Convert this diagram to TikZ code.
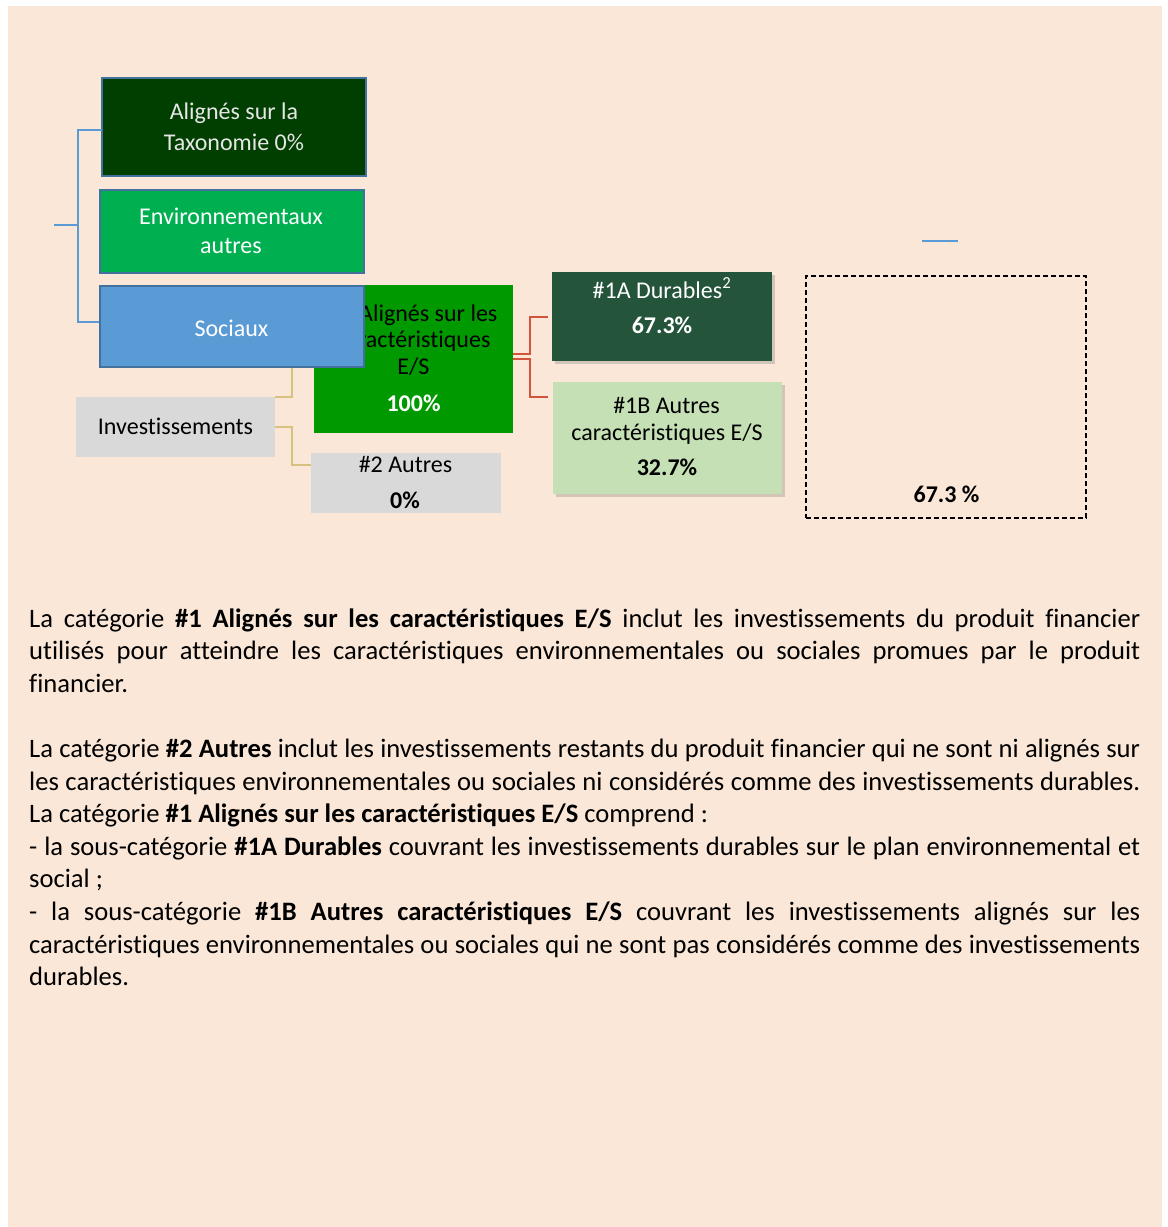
\documentclass[tikz,border=0pt]{standalone}
\usepackage{fontspec}
\setmainfont{Carlito}[Ligatures={CommonOff}]
\usetikzlibrary{shadows}
\definecolor{peach}{HTML}{FAE7D7}
\definecolor{bordblue}{HTML}{41719C}
\definecolor{taxgreen}{HTML}{003F00}
\definecolor{envgreen}{HTML}{00B050}
\definecolor{socblue}{HTML}{5B9BD5}
\definecolor{esgreen}{HTML}{009900}
\definecolor{greybox}{HTML}{D9D9D9}
\definecolor{darkgreen}{HTML}{24543A}
\definecolor{lightgreen}{HTML}{C5E0B4}
\definecolor{redline}{HTML}{D0553A}
\definecolor{tanline}{HTML}{D4C27E}
\definecolor{linkblue}{HTML}{5B9BD5}
\definecolor{taxtext}{HTML}{E6E6E6}
\begin{document}
\begin{tikzpicture}[x=1pt,y=-1pt,
  box/.style={rectangle, inner sep=0pt, outer sep=0pt},
  bordered/.style={box, draw=bordblue, line width=2pt},
  shadowed/.style={box, drop shadow={shadow xshift=2.5pt, shadow yshift=-3pt, opacity=0.22, fill=black!70}},
  txt/.style={anchor=base, inner sep=0pt, font=\fontsize{24}{29}\selectfont},
  ptxt/.style={anchor=base west, inner sep=0pt, font=\fontsize{26.6}{32.6}\selectfont, text=black},
  blueconn/.style={draw=linkblue, line width=1.4pt},
  tanconn/.style={draw=tanline, line width=1.6pt},
  redconn/.style={draw=redline, line width=2pt}]
\useasboundingbox (0,0) rectangle (1168,1227);
\fill[white] (0,0) rectangle (1168,1227);
\fill[peach] (8,6) rectangle (1162,1227);

% left boxes
\node[bordered, fill=taxgreen, minimum width=264pt, minimum height=98pt] (tax) at (233.5,126.5) {};
\node[txt, text=taxtext] (taxA) at (234,119) {Alignés sur la};
\node[txt, text=taxtext] (taxB) at (234,150) {Taxonomie 0\%};

\node[bordered, fill=envgreen, minimum width=264pt, minimum height=83pt] (env) at (231.5,231) {};
\node[txt, text=white] (envA) at (231,224) {Environnementaux};
\node[txt, text=white] (envB) at (231,253) {autres};

% blue connectors
\coordinate (root) at (54,225);
\draw[blueconn] (root) -- (78,225) |- ([yshift=-3.5pt]tax.west);
\draw[blueconn] (78,225) |- (99,322);

% #1 box
\node[box, fill=esgreen, minimum width=199pt, minimum height=148pt] (es1) at (413.5,359) {};
\node[txt, text=black] (es1A) at (413.5,321) {\#1 Alignés sur les};
\node[txt, text=black] (es1B) at (413.5,347) {caractéristiques};
\node[txt, text=black] (es1C) at (413.5,374) {E/S};
\node[txt, text=white, font=\fontsize{24}{29}\selectfont\bfseries] (es1D) at (413.5,411) {100\%};

% investissements
\node[box, fill=greybox, minimum width=199pt, minimum height=60pt] (inv) at (175.5,427) {};
\node[txt, text=black] (invA) at (175.5,434) {Investissements};

\node[box, fill=greybox, minimum width=190pt, minimum height=60pt] (aut2) at (406,483) {};
\node[txt, text=black] (aut2A) at (405.5,472) {\#2 Autres};
\node[txt, text=black, font=\fontsize{24}{29}\selectfont\bfseries] (aut2B) at (405,508) {0\%};

% tan connectors
\draw[tanconn] (inv.north east) -- ++(17,0) |- (es1.west);
\draw[tanconn] (inv.east) -- ++(17,0) |- ([yshift=18pt]aut2.west);

% sociaux (drawn over #1 box)
\node[bordered, fill=socblue, minimum width=264pt, minimum height=81pt] (soc) at (231.5,326) {};
\node[txt, text=white] (socA) at (231.5,336) {Sociaux};

% #1A and #1B
\node[shadowed, fill=darkgreen, minimum width=220pt, minimum height=89pt] (d1a) at (662,316.5) {};
\node[txt, text=white] (d1aA) at (662,298) {\#1A Durables\textsuperscript{2}};
\node[txt, text=white, font=\fontsize{24}{29}\selectfont\bfseries] (d1aB) at (662,333) {67.3\%};

\node[shadowed, fill=lightgreen, minimum width=229pt, minimum height=112pt] (d1b) at (667.5,438) {};
\node[txt, text=black] (d1bA) at (666.5,413) {\#1B Autres};
\node[txt, text=black] (d1bB) at (667,440) {caractéristiques E/S};
\node[txt, text=black, font=\fontsize{24}{29}\selectfont\bfseries] (d1bC) at (667,475) {32.7\%};

% red connectors
\draw[redconn] ([yshift=5pt]es1.east) -- ++(17,0) |- ([xshift=-4pt]d1a.west);
\draw[redconn] (es1.east) -- ++(17,0) |- ([xshift=-5pt,yshift=41pt]d1b.west);

% dashed box
\node[box, draw=black, dash pattern=on 5pt off 3pt, line width=1.3pt, minimum width=280pt, minimum height=242pt] (dash) at (946,397) {};
\node[txt, text=black, font=\fontsize{24}{29}\selectfont\bfseries] (dashA) at (946.5,502) {67.3 \%};

% stray short blue line
\coordinate (s1) at (922,241);
\coordinate (s2) at (958,241);
\draw[blueconn] (s1) -- (s2);

% paragraph text
\node[ptxt] (p1) at (29,627) {\makebox[1111pt][s]{La catégorie \textbf{\#1 Alignés sur les caractéristiques E/S} inclut les investissements du produit financier}};
\node[ptxt] (p2) at (29,659.6) {\makebox[1111pt][s]{utilisés pour atteindre les caractéristiques environnementales ou sociales promues par le produit}};
\node[ptxt] (p3) at (29,692.2) {financier.};
\node[ptxt] (p4) at (29,757.4) {\makebox[1111pt][s]{La catégorie \textbf{\#2 Autres} inclut les investissements restants du produit financier qui ne sont ni alignés sur}};
\node[ptxt] (p5) at (29,790) {\makebox[1111pt][s]{les caractéristiques environnementales ou sociales ni considérés comme des investissements durables.}};
\node[ptxt] (p6) at (29,822.6) {La catégorie \textbf{\#1 Alignés sur les caractéristiques E/S} comprend :};
\node[ptxt] (p7) at (29,855.2) {\makebox[1111pt][s]{- la sous-catégorie \textbf{\#1A Durables} couvrant les investissements durables sur le plan environnemental et}};
\node[ptxt] (p8) at (29,887.8) {social ;};
\node[ptxt] (p9) at (29,920.4) {\makebox[1111pt][s]{- la sous-catégorie \textbf{\#1B Autres caractéristiques E/S} couvrant les investissements alignés sur les}};
\node[ptxt] (p10) at (29,953) {\makebox[1111pt][s]{caractéristiques environnementales ou sociales qui ne sont pas considérés comme des investissements}};
\node[ptxt] (p11) at (29,985.6) {durables.};
\end{tikzpicture}
\end{document}
